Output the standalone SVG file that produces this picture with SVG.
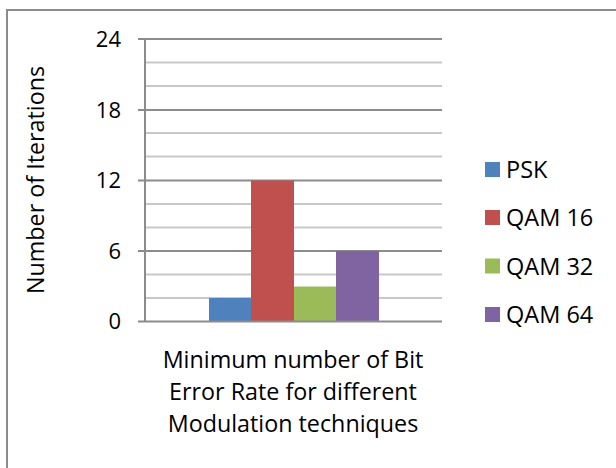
<svg xmlns="http://www.w3.org/2000/svg" width="616" height="468" viewBox="0 0 616 468">
<style>
text{font-family:"Open Sans","Liberation Sans",sans-serif;fill:#000;}
.tick{font-size:22px;text-anchor:end;}
.leg{font-size:23.5px;}
.cat{font-size:23.3px;text-anchor:middle;}
.minor{stroke:#c8c8c8;stroke-width:2;}
.major{stroke:#8c8c8c;stroke-width:2;}
</style>
<rect x="0" y="0" width="616" height="468" fill="#fff"/>
<path d="M7 468 V10 H616" fill="none" stroke="#8c8c8c" stroke-width="2"/>
<g id="grid">
<line class="minor" x1="145" y1="62.5" x2="442" y2="62.5"/>
<line class="minor" x1="145" y1="86" x2="442" y2="86"/>
<line class="minor" x1="145" y1="133" x2="442" y2="133"/>
<line class="minor" x1="145" y1="156.5" x2="442" y2="156.5"/>
<line class="minor" x1="145" y1="204" x2="442" y2="204"/>
<line class="minor" x1="145" y1="227.5" x2="442" y2="227.5"/>
<line class="minor" x1="145" y1="274.5" x2="442" y2="274.5"/>
<line class="minor" x1="145" y1="298" x2="442" y2="298"/>
<line class="major" x1="138" y1="39" x2="442" y2="39"/>
<line class="major" x1="138" y1="110" x2="442" y2="110"/>
<line class="major" x1="138" y1="180.5" x2="442" y2="180.5"/>
<line class="major" x1="138" y1="251" x2="442" y2="251"/>
</g>
<g id="bars">
<rect id="bar-psk" x="209" y="298" width="42" height="23.5" fill="#4f81bd"/>
<rect id="bar-qam16" x="251" y="180.5" width="43" height="141" fill="#c0504d"/>
<rect id="bar-qam32" x="294" y="286.5" width="42" height="35" fill="#9bbb59"/>
<rect id="bar-qam64" x="336" y="251" width="43" height="70.5" fill="#8064a2"/>
</g>
<g id="axes">
<line class="major" x1="145" y1="39" x2="145" y2="322"/>
<line class="major" x1="138" y1="321.5" x2="442" y2="321.5"/>
</g>
<g id="ticks">
<text class="tick" x="121" y="47">24</text>
<text class="tick" x="121" y="118">18</text>
<text class="tick" x="121" y="188">12</text>
<text class="tick" x="121" y="259">6</text>
<text class="tick" x="121" y="329">0</text>
</g>
<text id="ytitle" x="0" y="0" font-size="23.3" text-anchor="middle" transform="translate(44,180) rotate(-90)">Number of Iterations</text>
<g id="category">
<text class="cat" x="293" y="368">Minimum number of Bit</text>
<text class="cat" x="293" y="400">Error Rate for different</text>
<text class="cat" x="293" y="432">Modulation techniques</text>
</g>
<g id="legend">
<g id="leg-psk"><rect x="485" y="162" width="15" height="15" fill="#4f81bd"/><text class="leg" x="506" y="178">PSK</text></g>
<g id="leg-qam16"><rect x="485" y="210" width="15" height="15" fill="#c0504d"/><text class="leg" x="506" y="226">QAM 16</text></g>
<g id="leg-qam32"><rect x="485" y="258.5" width="15" height="15" fill="#9bbb59"/><text class="leg" x="506" y="274.5">QAM 32</text></g>
<g id="leg-qam64"><rect x="485" y="307" width="15" height="15" fill="#8064a2"/><text class="leg" x="506" y="323">QAM 64</text></g>
</g>
</svg>
